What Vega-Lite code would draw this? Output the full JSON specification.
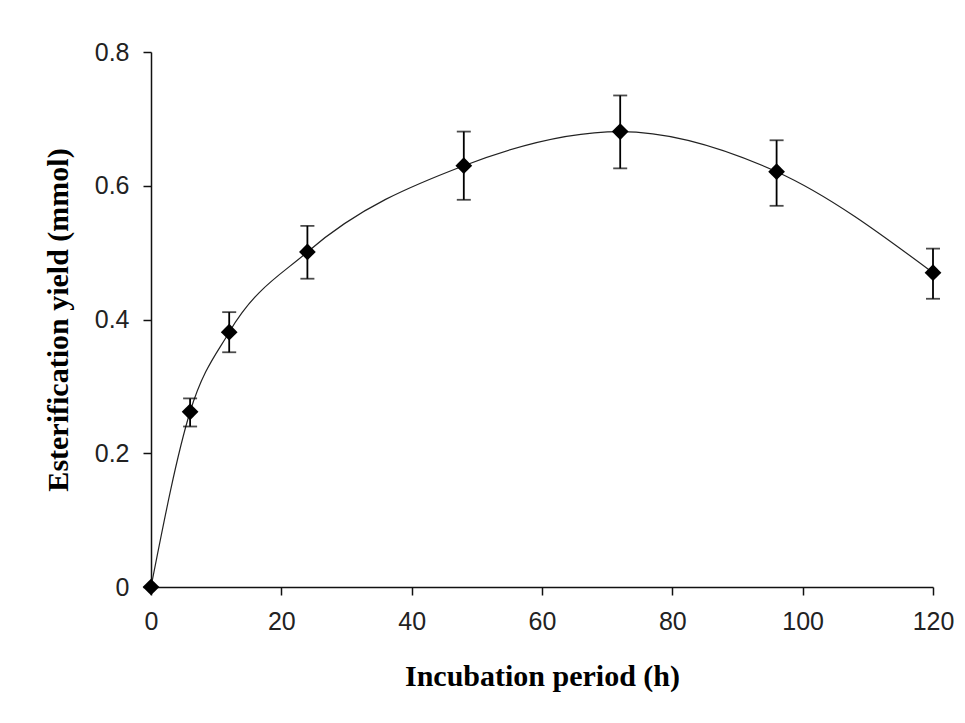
{
  "$schema": "https://vega.github.io/schema/vega-lite/v6.json",
  "autosize": "none",
  "padding": {"left": 151, "top": 52, "right": 32, "bottom": 136},
  "width": 782,
  "height": 535,
  "background": "white",
  "config": {
    "view": {"stroke": null},
    "axis": {
      "grid": false,
      "domainColor": "#111",
      "domainWidth": 1.5,
      "tickColor": "#111",
      "tickWidth": 1.5,
      "tickSize": 8,
      "labelFlush": false,
      "labelFont": "Liberation Sans",
      "labelFontSize": 25,
      "labelColor": "#222",
      "titleFont": "Liberation Serif",
      "titleFontWeight": "bold",
      "titleColor": "black"
    },
    "axisX": {"titleFontSize": 30, "titlePadding": 27, "labelPadding": 14},
    "axisY": {"titleFontSize": 30, "titlePadding": 21, "labelPadding": 14}
  },
  "data": {
    "values": [
      {"t": 0, "yield": 0, "lo": 0, "hi": 0},
      {"t": 6, "yield": 0.262, "lo": 0.240, "hi": 0.282},
      {"t": 12, "yield": 0.381, "lo": 0.351, "hi": 0.411},
      {"t": 24, "yield": 0.501, "lo": 0.461, "hi": 0.540},
      {"t": 48, "yield": 0.630, "lo": 0.579, "hi": 0.681},
      {"t": 72, "yield": 0.681, "lo": 0.626, "hi": 0.735},
      {"t": 96, "yield": 0.621, "lo": 0.570, "hi": 0.668},
      {"t": 120, "yield": 0.470, "lo": 0.431, "hi": 0.506}
    ]
  },
  "encoding": {
    "x": {
      "field": "t",
      "type": "quantitative",
      "scale": {"domain": [0, 120], "nice": false},
      "axis": {"values": [0, 20, 40, 60, 80, 100, 120], "title": "Incubation period (h)", "format": "d"}
    }
  },
  "layer": [
    {
      "mark": {"type": "line", "interpolate": "monotone", "color": "#222", "strokeWidth": 1.2},
      "encoding": {
        "y": {
          "field": "yield",
          "type": "quantitative",
          "title": "Esterification yield (mmol)",
          "scale": {"domain": [0, 0.8], "nice": false},
          "axis": {"values": [0, 0.2, 0.4, 0.6, 0.8], "labelExpr": "datum.value == 0 ? '0' : format(datum.value, '.1f')"}
        }
      }
    },
    {
      "transform": [{"filter": "datum.t > 0"}],
      "mark": {"type": "errorbar", "ticks": {"size": 14, "thickness": 1.8, "color": "black"}, "rule": {"strokeWidth": 1.8, "color": "black"}},
      "encoding": {
        "y": {"field": "lo", "type": "quantitative", "title": "Esterification yield (mmol)"},
        "y2": {"field": "hi"}
      }
    },
    {
      "mark": {"type": "point", "shape": "diamond", "filled": true, "color": "black", "size": 280, "opacity": 1},
      "encoding": {
        "y": {"field": "yield", "type": "quantitative", "title": "Esterification yield (mmol)"}
      }
    }
  ]
}
